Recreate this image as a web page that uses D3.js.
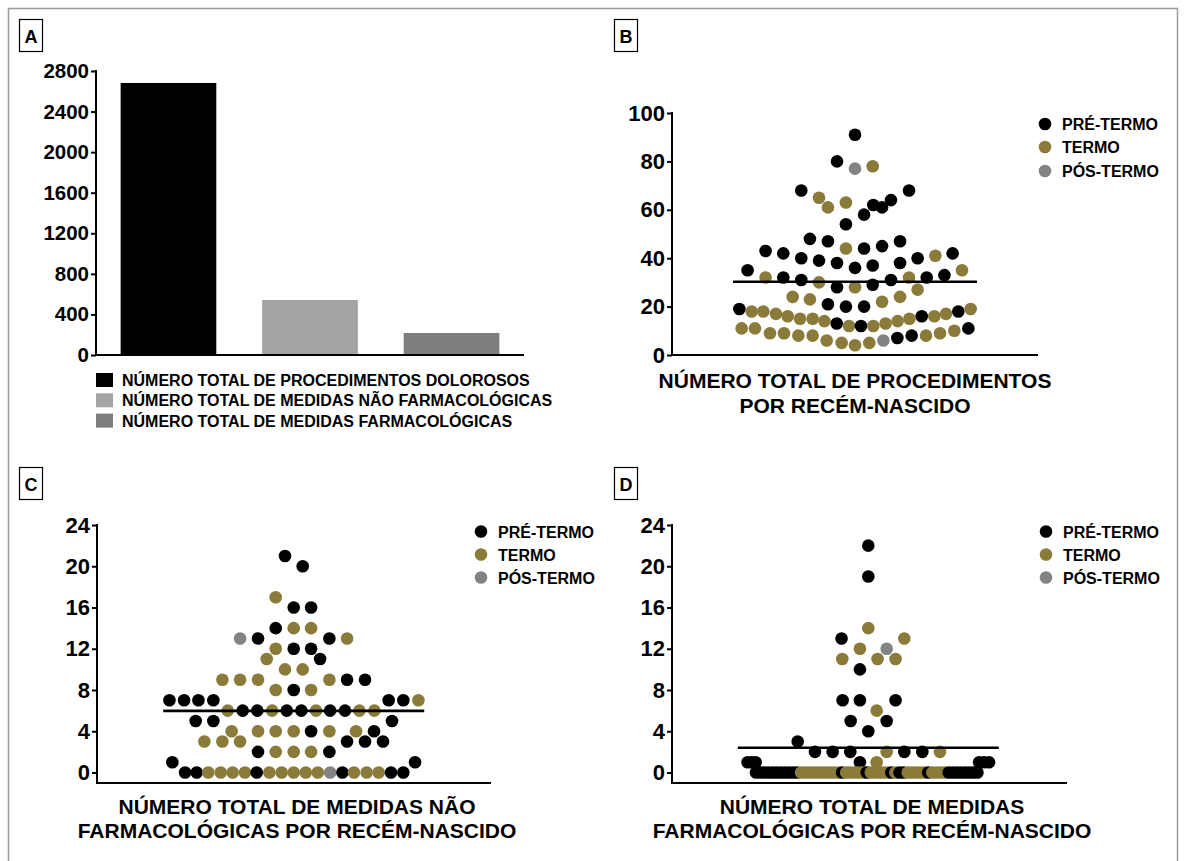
<!DOCTYPE html>
<html>
<head>
<meta charset="utf-8">
<script src="https://cdn.jsdelivr.net/npm/d3@7"></script>
<style>
  body { margin: 0; background: #fff; }
  svg { display: block; }
  text { font-family: "Liberation Sans", Arial, Helvetica, sans-serif; font-weight: bold; fill: #000; }
</style>
</head>
<body>
<svg id="fig" width="1185" height="861"></svg>
<script>
// ---------- Panel A: totals ----------
const totalCategories = [
  "NÚMERO TOTAL DE PROCEDIMENTOS DOLOROSOS",
  "NÚMERO TOTAL DE MEDIDAS NÃO FARMACOLÓGICAS",
  "NÚMERO TOTAL DE MEDIDAS FARMACOLÓGICAS"
];
const totalValues = [2682, 542, 217];
const totalColors = ["#000000", "#a4a4a7", "#7e7e7e"];
const totalTicks = [0, 400, 800, 1200, 1600, 2000, 2400, 2800];

// ---------- Groups (gestational age) ----------
const groupNames = ["PRÉ-TERMO", "TERMO", "PÓS-TERMO"];
const groupColors = ["#000000", "#8b7b3a", "#838383"];

// Each point: [value, horizontal offset in dot spacings from the column centre, group index]
const procedures = [
  [91,0,0],[80,-1.27,0],[77,0,2],[78,1.25,1],[68,-3.79,0],[68,3.81,0],[65,-2.54,1],[61,-1.91,1],
  [63,-0.64,1],[58,0.64,0],[62,1.29,0],[61,1.91,0],[64,2.54,0],[54,-0.64,0],
  [48,-3.18,0],[47,-1.91,0],[44,-0.64,1],[44,0.64,0],[45,1.91,0],[47,3.18,0],
  [43,-6.31,0],[42,-5.06,0],[40,-3.79,0],[39,-2.54,0],[38,-1.27,0],[36,0,0],[37,1.25,0],
  [38,3.18,0],[40,4.42,0],[41,5.67,1],[42,6.89,0],
  [35,-7.58,0],[32,-6.31,1],[32,-5.06,0],[31,-3.79,0],[30,-2.54,1],[28,-1.27,0],[28,0,1],
  [29,1.25,0],[31,2.54,0],[32,3.81,1],[32,5.06,0],[33,6.31,0],[35,7.55,1],[27,4.42,1],
  [24,-4.4,1],[23,-3.18,1],[21,-1.91,0],[20,-0.64,0],[20,0.64,0],[22,1.91,1],[24,3.18,1],
  [19,-8.16,0],[18,-7.29,1],[18,-6.47,1],[17,-5.58,1],[16,-4.75,1],[15,-3.88,1],[15,-2.99,1],
  [14,-2.16,1],[13,-1.29,0],[12,-0.42,1],[12,0.42,0],[12,1.29,1],[13,2.16,1],[14,3.01,1],
  [15,3.84,1],[16,4.71,0],[16,5.6,1],[17,6.42,1],[18,7.29,0],[19,8.16,1],
  [11,-8,1],[11,-7.06,1],[9,-6,1],[9,-5.01,1],[8,-4,1],[8,-2.99,1],[6,-2,1],[5,-0.94,1],
  [4,0,1],[5,1.01,1],[6,2,2],[7,2.99,0],[8,4,0],[8,5.01,1],[9,6,1],[10,7.01,1],[11,8,0]
];

const nonPharmacological = [
  [21,-0.6,0],[20,0.62,0],[17,-1.24,1],[16,0,0],[16,1.2,0],
  [14,-1.24,0],[14,0,1],[14,1.2,1],
  [13,-3.7,2],[13,-2.46,0],[13,2.46,0],[13,3.68,1],
  [12,-1.24,1],[12,0,0],[12,1.2,0],
  [11,-1.86,1],[11,1.82,0],
  [10,-0.6,1],[10,0.62,1],
  [9,-4.92,1],[9,-3.7,1],[9,-2.46,1],[9,2.46,1],[9,3.68,0],[9,4.92,0],
  [8,-1.24,1],[8,0,0],[8,1.2,1],
  [7,-8.57,0],[7,-7.56,0],[7,-6.57,0],[7,-5.54,0],[7,6.55,0],[7,7.56,0],[7,8.6,1],
  [6,-4.55,1],[6,-3.52,0],[6,-2.51,0],[6,-1.49,1],[6,-0.48,0],[6,0.53,0],[6,1.54,1],
  [6,2.51,0],[6,3.54,0],[6,4.53,1],[6,5.56,1],
  [5,-6.76,0],[5,-5.54,0],[5,6.78,0],
  [4,-4.28,1],[4,-2.46,1],[4,-1.24,1],[4,0,1],[4,1.2,0],[4,2.46,1],[4,4.3,1],[4,5.54,0],
  [3,-6.16,1],[3,-4.92,1],[3,-3.7,1],[3,3.68,0],[3,4.92,0],[3,6.16,0],
  [2,-2.46,0],[2,-1.24,1],[2,0,1],[2,1.2,1],[2,2.46,0],
  [1,-8.37,0],[1,8.37,0],
  [0,-7.49,0],[0,-6.69,0],[0,-5.89,1],[0,-5.03,1],[0,-4.21,1],[0,-3.36,1],[0,-2.55,0],
  [0,-1.68,1],[0,-0.83,1],[0,0,1],[0,0.83,1],[0,1.66,1],[0,2.51,2],[0,3.36,0],
  [0,4.16,1],[0,5.03,1],[0,5.86,1],[0,6.71,0],[0,7.56,0]
];

const pharmacological = [
  [22,0,0],[19,0,0],[14,0,1],[13,-1.5,0],[13,2.02,1],[12,-0.47,1],[12,1.03,2],
  [11,-1.46,1],[11,0.52,1],[11,1.53,1],[10,-0.47,0],
  [7,-1.44,0],[7,-0.47,0],[7,1.53,0],[6,0.47,1],[5,-0.99,0],[5,1.03,0],[4,0,0],[3,-3.96,0],
  [2,-2.99,0],[2,-2,0],[2,-1.01,0],[2,1.03,1],[2,2.02,0],[2,3.03,0],[2,4.02,1],
  [1,-6.77,0],[1,-6.54,0],[1,-6.32,0],[1,-0.47,0],[1,0.47,1],[1,6.22,0],[1,6.49,0],[1,6.77,0],
  [0,-6.30,0],[0,-6.07,0],[0,-5.84,0],[0,-5.61,0],[0,-5.38,0],[0,-5.15,0],[0,-4.92,0],
  [0,-4.69,0],[0,-4.46,0],[0,-4.23,0],[0,-4.00,0],[0,-3.77,1],[0,-3.54,1],[0,-3.31,1],
  [0,-3.08,1],[0,-2.85,1],[0,-2.62,1],[0,-2.39,1],[0,-2.16,1],[0,-1.93,1],[0,-1.70,1],
  [0,-1.47,0],[0,-1.24,1],[0,-1.01,1],[0,-0.78,1],[0,-0.55,1],[0,-0.32,1],[0,-0.09,0],
  [0,0.14,1],[0,0.37,1],[0,0.60,1],[0,0.83,1],[0,1.06,1],[0,1.29,0],[0,1.52,1],
  [0,1.75,0],[0,1.98,0],[0,2.21,1],[0,2.44,1],[0,2.67,1],[0,2.90,1],[0,3.13,1],
  [0,3.36,0],[0,3.59,1],[0,3.82,1],[0,4.05,1],[0,4.28,1],[0,4.51,0],[0,4.74,0],
  [0,4.97,0],[0,5.20,0],[0,5.43,0],[0,5.66,0],[0,5.89,0],[0,6.12,0]
];

const procTicks = [0, 20, 40, 60, 80, 100];
const measureTicks = [0, 4, 8, 12, 16, 20, 24];

// ---------- Drawing ----------
const svg = d3.select("#fig");
const FONT = '"Liberation Sans", Arial, Helvetica, sans-serif';
const DOT_R = 6.3;

// outer frame
svg.append("rect")
  .attr("x", 8.5).attr("y", 8.5).attr("width", 1169).attr("height", 880)
  .attr("fill", "none").attr("stroke", "#9c9c9c").attr("stroke-width", 1.5);

function panelLabel(x, y, letter) {
  svg.append("rect").attr("x", x).attr("y", y).attr("width", 23).attr("height", 32)
    .attr("fill", "#fff").attr("stroke", "#000").attr("stroke-width", 1.2);
  svg.append("text").attr("x", x + 11.5).attr("y", y + 23)
    .attr("text-anchor", "middle").attr("font-size", 18).text(letter);
}

function yAxis(scale, ticks, x, fontSize, bottom) {
  const axis = d3.axisLeft(scale).tickValues(ticks).tickSize(5).tickPadding(2)
    .tickFormat(d3.format("d"));
  const g = svg.append("g").attr("transform", `translate(${x},0)`).call(axis)
    .attr("font-family", FONT).attr("font-size", fontSize);
  g.select(".domain").remove();
  g.selectAll(".tick line").attr("stroke", "#000").attr("stroke-width", 2);
  g.selectAll(".tick text").attr("fill", "#000").attr("font-weight", "bold");
  const top = scale(d3.max(ticks));
  g.append("line").attr("x1", 0).attr("x2", 0).attr("y1", top - 1).attr("y2", bottom)
    .attr("stroke", "#000").attr("stroke-width", 2);
}

function xAxisLine(x0, x1, y) {
  svg.append("line").attr("x1", x0).attr("x2", x1).attr("y1", y).attr("y2", y)
    .attr("stroke", "#000").attr("stroke-width", 2);
}

function title(lines, cx, y0, gap) {
  lines.forEach((t, i) => {
    svg.append("text").attr("x", cx).attr("y", y0 + i * gap)
      .attr("text-anchor", "middle").attr("font-size", 21).text(t);
  });
}

function groupLegend(dotX, textX, ys) {
  groupNames.forEach((name, i) => {
    svg.append("circle").attr("cx", dotX).attr("cy", ys[i]).attr("r", DOT_R)
      .attr("fill", groupColors[i]);
    svg.append("text").attr("x", textX).attr("y", ys[i] + 6)
      .attr("font-size", 16).text(name);
  });
}

function scatterPanel(points, cfg) {
  const x = d3.scaleLinear().domain([-1, 1]).range([cfg.cx - cfg.unit, cfg.cx + cfg.unit]);
  const y = cfg.y;
  yAxis(y, cfg.ticks, cfg.axisX, cfg.tickFont, cfg.axisY);
  xAxisLine(cfg.axisX - 1, cfg.axisEnd, cfg.axisY);
  svg.append("g").selectAll("circle").data(points).join("circle")
    .attr("cx", d => x(d[1]))
    .attr("cy", d => y(d[0]))
    .attr("r", DOT_R)
    .attr("fill", d => groupColors[d[2]]);
  const mean = d3.mean(points, d => d[0]);
  svg.append("line")
    .attr("x1", cfg.cx - cfg.meanHalf).attr("x2", cfg.cx + cfg.meanHalf)
    .attr("y1", y(mean)).attr("y2", y(mean))
    .attr("stroke", "#000").attr("stroke-width", 2.6);
}

// Panel A
panelLabel(19.5, 19.5, "A");
const yA = d3.scaleLinear().domain([0, 2800]).range([355, 71]);
const xA = d3.scaleBand().domain(totalCategories).range([96, 524])
  .paddingInner(0.324).paddingOuter(0.174);
svg.append("g").selectAll("rect").data(totalCategories).join("rect")
  .attr("x", d => xA(d))
  .attr("width", xA.bandwidth())
  .attr("y", (d, i) => yA(totalValues[i]))
  .attr("height", (d, i) => yA(0) - yA(totalValues[i]))
  .attr("fill", (d, i) => totalColors[i]);
yAxis(yA, totalTicks, 96, 20.5, 355);
xAxisLine(95, 524, 355);
totalCategories.forEach((c, i) => {
  svg.append("rect").attr("x", 96).attr("y", 373 + i * 20.3).attr("width", 17).attr("height", 14)
    .attr("fill", totalColors[i]);
  svg.append("text").attr("x", 122).attr("y", 386 + i * 20.3).attr("font-size", 16).text(c);
});

// Panel B
panelLabel(614.5, 19.5, "B");
scatterPanel(procedures, {
  cx: 855, unit: 14.17, meanHalf: 122,
  y: d3.scaleLinear().domain([0, 100]).range([355, 113]),
  ticks: procTicks, axisX: 672, axisY: 355, axisEnd: 1038, tickFont: 22
});
groupLegend(1045, 1062, [124, 147, 171]);
title(["NÚMERO TOTAL DE PROCEDIMENTOS", "POR RECÉM-NASCIDO"], 855, 388, 25);

// Panel C
panelLabel(19.5, 467.5, "C");
scatterPanel(nonPharmacological, {
  cx: 293.7, unit: 14.5, meanHalf: 130.5,
  y: d3.scaleLinear().domain([0, 24]).range([772.5, 525]),
  ticks: measureTicks, axisX: 97, axisY: 783, axisEnd: 491, tickFont: 22
});
groupLegend(481, 498, [531.5, 554.5, 577.5]);
title(["NÚMERO TOTAL DE MEDIDAS NÃO", "FARMACOLÓGICAS POR RECÉM-NASCIDO"], 297, 814, 24);

// Panel D
panelLabel(614.5, 467.5, "D");
scatterPanel(pharmacological, {
  cx: 868.3, unit: 17.83, meanHalf: 130.5,
  y: d3.scaleLinear().domain([0, 24]).range([772.5, 525]),
  ticks: measureTicks, axisX: 672, axisY: 783, axisEnd: 1067, tickFont: 22
});
groupLegend(1046, 1063, [531.5, 554.5, 577.5]);
title(["NÚMERO TOTAL DE MEDIDAS", "FARMACOLÓGICAS POR RECÉM-NASCIDO"], 872, 814, 24);
</script>
</body>
</html>
